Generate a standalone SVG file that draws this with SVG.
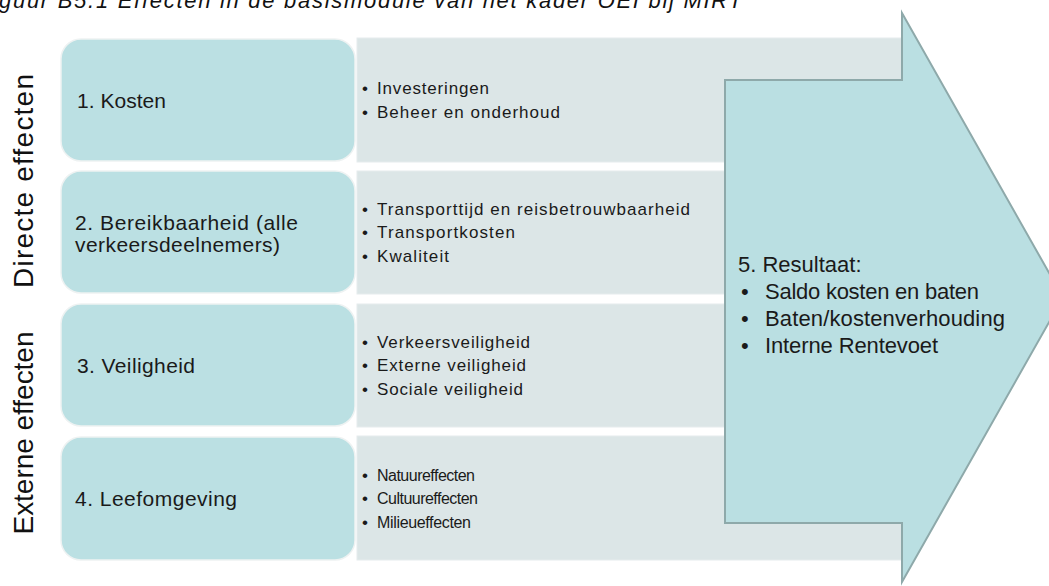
<svg xmlns="http://www.w3.org/2000/svg" width="1049" height="586" viewBox="0 0 1049 586">
<style>
.lbl{font-family:"Liberation Sans",Arial,sans-serif;font-size:21px;fill:#1a1a1a}
.bul{font-family:"Liberation Sans",Arial,sans-serif;font-size:17px;fill:#1a1a1a}
.bul2{font-family:"Liberation Sans",Arial,sans-serif;font-size:16px;fill:#1a1a1a}
.res{font-family:"Liberation Sans",Arial,sans-serif;font-size:22px;fill:#1a1a1a}
.side{font-family:"Liberation Sans",Arial,sans-serif;font-size:28px;fill:#111}
.cat{fill:#bbe0e3;stroke:#eef2f2;stroke-width:1.5}
.det{fill:#dce6e7;stroke:#e6eced;stroke-width:1}
.arrow{fill:#badfe2;stroke:#8ea9aa;stroke-width:2}
</style>
<rect width="1049" height="586" fill="#ffffff"/>
<text x="-1" y="8" font-family="'Liberation Sans',Arial,sans-serif" font-size="22" font-style="italic" fill="#111" textLength="743" lengthAdjust="spacing">guur B5.1 Effecten in de basismodule van het kader OEI bij MIRT</text>

<g id="side-labels">
<text class="side" transform="translate(33,181) rotate(-90)" text-anchor="middle" textLength="214" lengthAdjust="spacing">Directe effecten</text>
<text class="side" transform="translate(33,433) rotate(-90)" text-anchor="middle" textLength="203" lengthAdjust="spacing">Externe effecten</text>
</g>

<g id="details">
<rect class="det" x="357" y="38" width="548" height="124"/>
<rect class="det" x="357" y="171" width="548" height="123"/>
<rect class="det" x="357" y="304" width="548" height="123"/>
<rect class="det" x="357" y="436" width="548" height="124"/>
</g>

<g id="node-kosten">
<rect class="cat" x="61" y="39" width="294" height="122" rx="20"/>
<text class="lbl" x="77" y="108" textLength="89" lengthAdjust="spacing">1. Kosten</text>
<text class="bul" x="362" y="94">•</text>
<text class="bul" x="377" y="94" textLength="112" lengthAdjust="spacing">Investeringen</text>
<text class="bul" x="362" y="118">•</text>
<text class="bul" x="377" y="118" textLength="183" lengthAdjust="spacing">Beheer en onderhoud</text>
</g>

<g id="node-bereikbaarheid">
<rect class="cat" x="61" y="171" width="294" height="122" rx="20"/>
<text class="lbl" x="75" y="230" textLength="223" lengthAdjust="spacing">2. Bereikbaarheid (alle</text>
<text class="lbl" x="75" y="252" textLength="205" lengthAdjust="spacing">verkeersdeelnemers)</text>
<text class="bul" x="362" y="215">•</text>
<text class="bul" x="377" y="215" textLength="313" lengthAdjust="spacing">Transporttijd en reisbetrouwbaarheid</text>
<text class="bul" x="362" y="238">•</text>
<text class="bul" x="377" y="238" textLength="138" lengthAdjust="spacing">Transportkosten</text>
<text class="bul" x="362" y="262">•</text>
<text class="bul" x="377" y="262" textLength="72" lengthAdjust="spacing">Kwaliteit</text>
</g>

<g id="node-veiligheid">
<rect class="cat" x="61" y="304" width="294" height="122" rx="20"/>
<text class="lbl" x="77" y="373" textLength="118" lengthAdjust="spacing">3. Veiligheid</text>
<text class="bul" x="362" y="348">•</text>
<text class="bul" x="377" y="348" textLength="153" lengthAdjust="spacing">Verkeersveiligheid</text>
<text class="bul" x="362" y="371">•</text>
<text class="bul" x="377" y="371" textLength="149" lengthAdjust="spacing">Externe veiligheid</text>
<text class="bul" x="362" y="395">•</text>
<text class="bul" x="377" y="395" textLength="146" lengthAdjust="spacing">Sociale veiligheid</text>
</g>

<g id="node-leefomgeving">
<rect class="cat" x="61" y="437" width="294" height="123" rx="20"/>
<text class="lbl" x="75" y="506" textLength="162" lengthAdjust="spacing">4. Leefomgeving</text>
<text class="bul" x="362" y="481">•</text>
<text class="bul2" x="377" y="481" textLength="98" lengthAdjust="spacing">Natuureffecten</text>
<text class="bul" x="362" y="504">•</text>
<text class="bul2" x="377" y="504" textLength="101" lengthAdjust="spacing">Cultuureffecten</text>
<text class="bul" x="362" y="528">•</text>
<text class="bul2" x="377" y="528" textLength="94" lengthAdjust="spacing">Milieueffecten</text>
</g>

<g id="connectors">
<g id="node-resultaat">
<polygon class="arrow" points="725,80 902,80 902,13 1063,297.5 902,582 902,523 725,523"/>
<text class="res" x="738" y="272">5. Resultaat:</text>
<text class="res" x="741" y="299">•</text>
<text class="res" x="765" y="299" textLength="214" lengthAdjust="spacing">Saldo kosten en baten</text>
<text class="res" x="741" y="326">•</text>
<text class="res" x="765" y="326" textLength="240" lengthAdjust="spacing">Baten/kostenverhouding</text>
<text class="res" x="741" y="353">•</text>
<text class="res" x="765" y="353" textLength="173" lengthAdjust="spacing">Interne Rentevoet</text>
</g>
</g>
</svg>
